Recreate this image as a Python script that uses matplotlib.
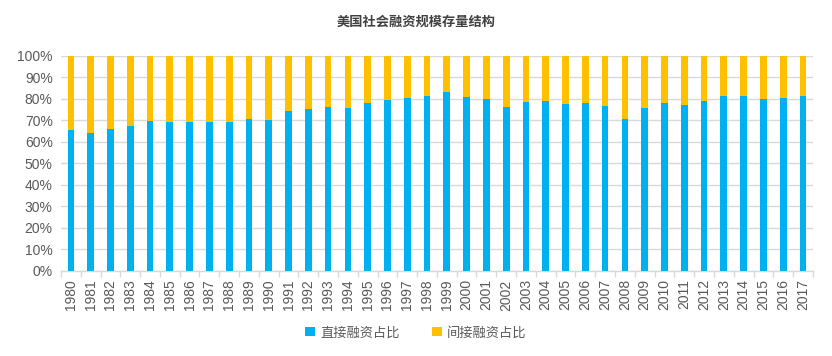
import matplotlib
matplotlib.use("Agg")
import matplotlib.pyplot as plt
import numpy as np
from matplotlib.ticker import FuncFormatter, FixedLocator

plt.rcParams['font.family'] = ['Noto Sans CJK SC', 'DejaVu Sans']

years = [str(y) for y in range(1980, 2018)]
direct = [65.7, 64.3, 66.2, 67.6, 69.9, 69.1, 69.5, 69.1, 69.5, 70.8,
          70.0, 74.2, 75.3, 76.3, 75.9, 78.2, 79.6, 80.5, 81.4, 83.2,
          80.9, 80.0, 76.3, 78.6, 79.1, 77.7, 78.0, 76.8, 70.9, 76.0,
          78.2, 77.2, 79.1, 81.4, 81.4, 80.0, 80.5, 81.4]
indirect = [100 - d for d in direct]

title = "美国社会融资规模存量结构"
label_direct = "直接融资占比"
label_indirect = "间接融资占比"

c_blue = "#00B0F0"
c_orange = "#FFC000"

fig = plt.figure(figsize=(8.32, 3.56), dpi=100)
ax = fig.add_axes([0.0733, 0.2388, 0.9037, 0.6039])

x = np.arange(len(years))
w = 0.34
ax.bar(x, direct, width=w, color=c_blue, label=label_direct, zorder=3)
ax.bar(x, indirect, width=w, bottom=direct, color=c_orange, label=label_indirect, zorder=3)

ax.set_ylim(0, 100)
ax.set_xlim(-0.5, len(years) - 0.5)
ax.set_yticks(np.arange(0, 101, 10))
ax.yaxis.set_major_formatter(FuncFormatter(lambda v, p: f"{int(v)}%"))
ax.set_xticks(x)
ax.set_xticklabels(years, rotation=90)
ax.xaxis.set_minor_locator(FixedLocator(np.arange(-0.5, len(years), 1.0)))
ax.tick_params(axis='both', which='major', length=0, labelsize=10, labelcolor="#595959")
ax.tick_params(axis='x', which='minor', length=4, width=1, color="#D9D9D9")
ax.tick_params(axis='y', pad=6)
ax.tick_params(axis='x', which='major', pad=6)
for lab in ax.get_xticklabels() + ax.get_yticklabels():
    lab.set_family(['Liberation Sans', 'DejaVu Sans'])
ax.grid(axis='y', color="#D9D9D9", linewidth=1, zorder=0)
for s in ['top', 'right', 'left']:
    ax.spines[s].set_visible(False)
ax.spines['bottom'].set_color("#D9D9D9")
ax.spines['bottom'].set_linewidth(1)

fig.text(0.5, 0.938, title, ha='center', va='center', fontsize=9.5, color="#404040", fontweight='bold')

fig.legend(loc='center', bbox_to_anchor=(0.5, 0.065), ncol=2, frameon=False,
           fontsize=9.5, handlelength=0.7, handleheight=0.7, columnspacing=2.5,
           handletextpad=0.4, labelcolor="#595959")

fig.savefig("out.png", dpi=100)
